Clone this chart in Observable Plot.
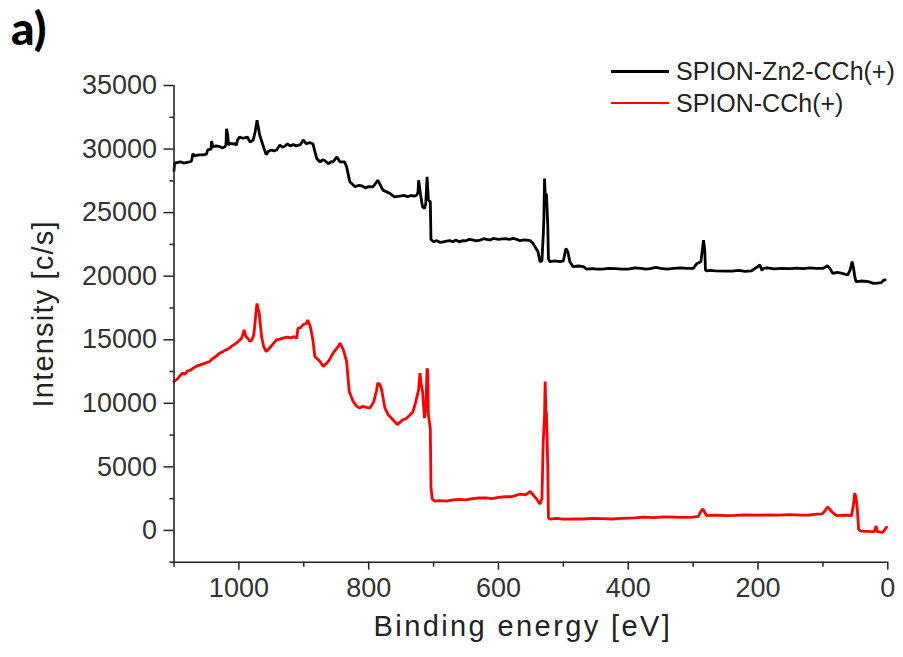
<!DOCTYPE html>
<html><head><meta charset="utf-8">
<script src="https://cdn.jsdelivr.net/npm/d3@7"></script>
<script src="https://cdn.jsdelivr.net/npm/@observablehq/plot@0.6"></script>
<style>
body{margin:0;background:#fff;}
#wrap{position:relative;width:903px;height:657px;font-family:"Liberation Sans",Arial,sans-serif;}
#panel{position:absolute;left:11px;top:5px;font-family:Lato,"DejaVu Sans",sans-serif;font-weight:900;font-size:46px;color:#000;line-height:1;}
#legend{position:absolute;left:611px;top:56px;font-size:25px;color:#222;}
.row{display:flex;align-items:center;height:31.6px;white-space:nowrap;}
.sw{width:58px;height:0;border-top:3px solid;margin-right:7px;}
</style></head>
<body>
<div id="wrap">
  <div id="chart"></div>
  <div id="panel">a)</div>
  <div id="legend"></div>
</div>
<script>
// ---- data ----
const seriesNames = ["SPION-Zn2-CCh(+)", "SPION-CCh(+)"];
const seriesColors = ["#000000", "#ff0000"];
const xTitle = "Binding energy [eV]";
const yTitle = "Intensity [c/s]";
const xDomain = [1100, 0];
const yDomain = [-2500, 35000];
const xMajorTicks = [1000, 800, 600, 400, 200, 0];
const xMinorTicks = [1100, 900, 700, 500, 300, 100];
const yMajorTicks = [0, 5000, 10000, 15000, 20000, 25000, 30000, 35000];
const yMinorTicks = [-2500, 2500, 7500, 12500, 17500, 22500, 27500, 32500];

const blackE = [1100,1099,1094,1090,1085,1080,1076,1073,1071,1068,1066,1060,1055,1050,1048,1043,1042,1040,1035,1030,1026,1022,1020,1019,1017,1016,1013,1010,1006,1004,1002,999,994,990,987,983,978,975,972,970,968,963,958,955,950,946,942,937,933,930,925,921,916,912,905,901,896,891,886,880,875,871,868,862,858,855,849,844,837,834,829,821,815,810,805,800,793,786,778,767,760,752,745,740,735,730,726,724,723,720,717,714,712,710,708,705,704,700,695,690,685,680,675,670,666,660,655,650,645,640,634,628,623,618,613,608,600,590,583,577,572,567,560,551,547,539,536,533,531,530,529,528,526,524,523,521,513,505,500,496,493,490,485,477,469,464,455,448,440,430,420,410,400,390,380,373,366,358,350,340,330,320,310,300,294,288,286,284,282,281,279,274,265,250,240,230,220,210,197,194,192,186,175,165,150,140,130,120,110,100,93,89,85,78,70,62,58,55,53,51,49,48,42,36,30,22,16,10,6,4,3];
const blackI = [28300,28900,28950,29000,28900,28950,29000,29050,29640,29450,29500,29550,29540,29600,29930,30000,30630,30160,30250,30200,30100,30160,30300,31600,31000,30320,30450,30400,30420,30300,30710,30950,30850,30900,30950,30560,30700,31340,32260,31700,31110,30320,29560,29800,29930,29850,29930,30320,30150,30200,30400,30250,30350,30250,30350,30710,30420,30500,30420,29250,28990,29150,29100,28850,29000,28990,29380,28990,28990,28600,27420,27030,27150,27100,26950,27050,27030,27550,26770,26500,26240,26300,26350,26250,26350,26300,26370,26600,27550,26400,25460,25320,25700,27810,26000,25850,22870,22710,22800,22650,22700,22750,22800,22710,22840,22700,22800,22780,22900,22850,22780,22840,22950,22900,22850,22970,22900,22950,22900,22970,22900,22790,22850,22790,22600,21920,21140,21200,23230,24500,27680,26500,26400,24000,21400,21140,21200,21140,21200,22180,21900,21140,20750,20800,20750,20560,20600,20560,20560,20620,20600,20560,20560,20650,20610,20560,20600,20700,20620,20560,20610,20650,20610,20610,21000,21140,22000,22840,22000,20490,20410,20450,20420,20400,20400,20450,20380,20410,20880,20450,20610,20650,20580,20620,20600,20640,20600,20660,20610,20610,20820,20600,20220,20300,20220,20090,20500,21140,20700,20000,19570,19570,19620,19600,19570,19430,19450,19500,19700,19700];

const redE = [1100,1098,1095,1091,1087,1083,1079,1075,1071,1066,1061,1055,1050,1045,1042,1038,1034,1030,1025,1020,1015,1011,1008,1004,1000,996,994,992,990,989,986,983,980,977,975,973,972,970,969,965,962,958,953,947,942,937,932,926,920,915,911,909,905,901,896,894,890,886,883,875,870,866,862,855,848,844,839,834,830,824,819,814,810,805,798,792,788,786,783,780,775,770,765,756,752,747,742,736,732,728,723,721,719,717,714,712,710,709,708,705,704,702,698,690,680,670,660,650,640,630,620,610,600,590,580,567,558,551,545,541,536,533,531,529,528,527,526,524,523,521,510,500,485,470,455,440,425,410,390,377,360,345,330,315,300,292,288,285,282,279,265,250,235,220,200,185,170,150,135,122,110,101,96,93,90,86,79,68,56,53,51,49,47,45,42,30,21,19,18,16,8,4,2];
const redI = [11720,11800,11900,12150,12370,12300,12550,12600,12750,12900,13000,13100,13200,13290,13450,13600,13750,13940,14050,14200,14330,14500,14600,14730,14900,15120,15400,15780,15400,15250,15100,14860,14990,15400,16430,17500,17860,17300,17210,15250,14500,14070,14330,14700,14990,15050,15120,15200,15150,15250,15120,15900,15950,16170,16300,16560,16040,15000,13680,13290,12900,13100,13300,13940,14400,14730,14210,13290,10930,10150,9800,9620,9750,9700,9620,10150,11000,11590,11500,11070,9620,9100,8840,8320,8500,8710,8800,9110,9300,10020,11070,12370,11500,10930,8840,9500,12760,12500,9130,8000,3340,2460,2300,2350,2300,2400,2450,2400,2500,2550,2560,2500,2600,2650,2650,2850,2800,3080,2700,2460,2070,2500,7010,9000,11720,9500,9130,5000,990,890,940,890,900,900,940,920,900,950,990,1040,1000,1060,1050,1020,1040,1100,1500,1700,1400,1160,1200,1160,1180,1230,1200,1220,1200,1250,1200,1200,1280,1300,1600,1840,1700,1440,1160,1200,1160,2000,2930,2600,1700,80,-50,-80,-100,200,350,-100,-150,100,250];

const blackData = blackE.map((e, k) => ({e, i: blackI[k]}));
const redData = redE.map((e, k) => ({e, i: redI[k]}));

const chart = Plot.plot({
  width: 903, height: 657,
  marginLeft: 173.5, marginRight: 15.7, marginTop: 85, marginBottom: 95.3,
  x: {domain: xDomain},
  y: {domain: yDomain},
  style: {fontFamily: "'Liberation Sans', Arial, sans-serif", fontSize: "27px", color: "#333", background: "white", overflow: "visible"},
  marks: [
    Plot.line(blackData, {x: "e", y: "i", stroke: seriesColors[0], strokeWidth: 2.8, strokeLinejoin: "miter"}),
    Plot.line(redData, {x: "e", y: "i", stroke: seriesColors[1], strokeWidth: 2.8, strokeLinejoin: "miter"}),
    Plot.ruleX([xDomain[0]], {stroke: "#222", strokeWidth: 1.6}),
    Plot.ruleY([yDomain[0]], {stroke: "#222", strokeWidth: 1.6}),
    Plot.axisX({ticks: xMajorTicks, tickSize: 8, tickPadding: 8, tickFormat: d => String(d), label: null, stroke: "#222", strokeWidth: 1.5, fontSize: 27, fill: "#333"}),
    Plot.axisX({ticks: xMinorTicks, tickSize: 5, tickFormat: () => "", label: null, stroke: "#222", strokeWidth: 1.5}),
    Plot.axisY({ticks: yMajorTicks, tickSize: 10, tickPadding: 7, tickFormat: d => String(d), label: null, stroke: "#222", strokeWidth: 1.5, fontSize: 27, fill: "#333"}),
    Plot.axisY({ticks: yMinorTicks, tickSize: 4, tickFormat: () => "", label: null, stroke: "#222", strokeWidth: 1.5}),
    Plot.text([xTitle], {text: d => d, frameAnchor: "bottom", textAnchor: "middle", dy: 74, dx: -8, fontSize: 29, fill: "#222"}),
    Plot.text([yTitle], {text: d => d, frameAnchor: "left", textAnchor: "middle", rotate: -90, dx: -130, dy: -10, fontSize: 29, fill: "#222"})
  ]
});
d3.select(chart).selectAll("text").filter(function(){ return this.textContent === xTitle; }).attr("letter-spacing", "2.4px");
d3.select(chart).selectAll("text").filter(function(){ return this.textContent === yTitle; }).attr("letter-spacing", "1.2px");
document.getElementById("chart").appendChild(chart);

const legend = d3.select("#legend");
seriesNames.forEach((name, k) => {
  const row = legend.append("div").attr("class", "row");
  row.append("div").attr("class", "sw").style("border-top-color", seriesColors[k]).style("border-top-width", k === 0 ? "3px" : "2.5px");
  row.append("span").text(name);
});
</script>
</body></html>
